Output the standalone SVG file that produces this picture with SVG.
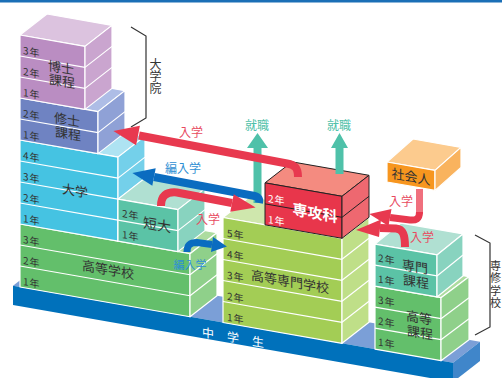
<svg xmlns="http://www.w3.org/2000/svg" width="502" height="378" viewBox="0 0 502 378">
<defs>
<style>
text{font-family:"Noto Sans CJK JP","Noto Sans",sans-serif;}
.y{font-size:10px;fill:#333;letter-spacing:1px}
.yw{font-size:10px;fill:#fff;letter-spacing:1px}
.lb{font-size:13px;fill:#333;text-anchor:middle}
.e{stroke:#fff;stroke-width:1.2;stroke-linejoin:round}
.l{stroke:#fff;stroke-width:1.2;fill:none}
.k{stroke:#222;stroke-width:1;stroke-linejoin:round}
.kl{stroke:#222;stroke-width:1;fill:none}
.pf{fill:#ba8dc2}.ps{fill:#caa5cf}.pt{fill:#dcc3df}
.mf{fill:#6f83c2}.ms{fill:#8fa1d6}.mt{fill:#aebde6}
.cf{fill:#45c3e2}.cs{fill:#74d0ea}.ct{fill:#aee3f2}
.tf{fill:#5bc3a6}.ts{fill:#88d3bf}.tt{fill:#b0e0d2}
.gf{fill:#63bf6b}.gs{fill:#8fd08a}.gt{fill:#addc9f}
.yf{fill:#a3cd55}.ys{fill:#bfdf88}.yt{fill:#cfe7ad}
.rf{fill:#e8364b}.rs{fill:#ee6870}.rt{fill:#f48b80}
.of{fill:#f7961f}.os{fill:#f9b35e}.ot{fill:#fccb8e}
.bf{fill:#0071bb}.bs{fill:#4086ca}.bt{fill:#7b9fd7}
.ar{fill:none;stroke:#e8394f;stroke-width:8}
.ab{fill:none;stroke:#0a6cc0;stroke-width:8}
.hr{fill:#e8394f}.hb{fill:#0a6cc0}.hg{fill:#4fc1a9}
.tr{font-size:12px;fill:#e84a5f;text-anchor:middle}
.tb{font-size:12px;fill:#2f8fd3;text-anchor:middle}
.tg{font-size:12px;fill:#4fc1a9;text-anchor:middle}
.br{fill:none;stroke:#333;stroke-width:1.2}
.vt{fill:#333;writing-mode:vertical-rl;text-orientation:upright}
</style>
</defs>
<rect x="0" y="0" width="502" height="2.5" fill="#1a6fb6"/>

<g id="chugakusei">
<polygon class="bt" points="13,285.8 40,264.8 480,341.8 453,362.8"/>
<polygon class="bf" points="13,285.8 453,362.8 453,382 13,305"/>
<polygon class="bs" points="453,362.8 480,341.8 480,361 453,382"/>
<text transform="translate(202,336.5) skewY(9.93)" style="font-size:12px;fill:#fff;letter-spacing:13px">中学生</text>
</g>

<g id="koutougakkou">
<polygon class="gt e" points="20,224 47,203 217,232.75 190,253.75"/>
<polygon class="gf e" points="20,224 190,253.75 190,316.75 20,287"/>
<polygon class="gs e" points="190,253.75 217,232.75 217,295.75 190,316.75"/>
<path class="l" d="M20,245 L190,274.75 M20,266 L190,295.75 M190,274.75 L217,253.75 M190,295.75 L217,274.75"/>
<text class="y" transform="translate(23,243) skewY(9.93)">3年</text>
<text class="y" transform="translate(23,264) skewY(9.93)">2年</text>
<text class="y" transform="translate(23,285) skewY(9.93)">1年</text>
<text class="lb" transform="translate(108,274.5) skewY(9.93)">高等学校</text>
</g>

<g id="daigaku">
<polygon class="ct e" points="20,140 47,119 145,136.15 118,157.15"/>
<polygon class="cf e" points="20,140 118,157.15 118,241.15 20,224"/>
<polygon class="cs e" points="118,157.15 145,136.15 145,220.15 118,241.15"/>
<path class="l" d="M20,161 L118,178.15 M20,182 L118,199.15 M20,203 L118,220.15 M118,178.15 L145,157.15 M118,199.15 L145,178.15 M118,220.15 L145,199.15"/>
<text class="y" transform="translate(23,159) skewY(9.93)">4年</text>
<text class="y" transform="translate(23,180) skewY(9.93)">3年</text>
<text class="y" transform="translate(23,201) skewY(9.93)">2年</text>
<text class="y" transform="translate(23,222) skewY(9.93)">1年</text>
<text class="lb" transform="translate(75,195.5) skewY(9.93)">大学</text>
</g>

<g id="tandai">
<polygon class="tt e" points="118,199.15 145,178.15 205,188.65 178,209.65"/>
<polygon class="tf e" points="118,199.15 178,209.65 178,251.65 118,241.15"/>
<polygon class="ts e" points="178,209.65 205,188.65 205,230.65 178,251.65"/>
<path class="l" d="M118,220.15 L178,230.65 M178,230.65 L205,209.65"/>
<text class="y" transform="translate(122,217) skewY(9.93)">2年</text>
<text class="y" transform="translate(122,238) skewY(9.93)">1年</text>
<text class="lb" style="font-size:14px" transform="translate(157,230) skewY(9.93)">短大</text>
</g>

<g id="shushi">
<polygon class="mt e" points="20,98 47,77 125,90.65 98,111.65"/>
<polygon class="mf e" points="20,98 98,111.65 98,153.65 20,140"/>
<polygon class="ms e" points="98,111.65 125,90.65 125,132.65 98,153.65"/>
<path class="l" d="M20,119 L98,132.65 M98,132.65 L125,111.65"/>
<text class="y" transform="translate(23,117) skewY(9.93)">2年</text>
<text class="y" transform="translate(23,138) skewY(9.93)">1年</text>
<text class="lb" transform="translate(67,124.5) skewY(9.93)">修士</text>
<text class="lb" transform="translate(68,138.5) skewY(9.93)">課程</text>
</g>

<g id="hakase">
<polygon class="pt e" points="20,35 47,14 112,25.375 85,46.375"/>
<polygon class="pf e" points="20,35 85,46.375 85,109.375 20,98"/>
<polygon class="ps e" points="85,46.375 112,25.375 112,88.375 85,109.375"/>
<path class="l" d="M20,56 L85,67.375 M20,77 L85,88.375 M85,67.375 L112,46.375 M85,88.375 L112,67.375"/>
<text class="y" transform="translate(23,54) skewY(9.93)">3年</text>
<text class="y" transform="translate(23,75) skewY(9.93)">2年</text>
<text class="y" transform="translate(23,96) skewY(9.93)">1年</text>
<text class="lb" transform="translate(61,72.5) skewY(9.93)">博士</text>
<text class="lb" transform="translate(62,86) skewY(9.93)">課程</text>
</g>

<g id="daigakuin-brace">
<polyline class="br" points="131,27 146,36 146,118 131,127"/>
<text class="vt" x="155.5" y="58" style="font-size:12px">大学院</text>
</g>

<g id="kousen">
<polygon class="yt e" points="223,217.5 250,196.5 369,217.3 342,238.3"/>
<polygon class="yf e" points="223,217.5 342,238.3 342,343.3 223,322.5"/>
<polygon class="ys e" points="342,238.3 369,217.3 369,322.3 342,343.3"/>
<path class="l" d="M223,238.5 L342,259.3 M223,259.5 L342,280.3 M223,280.5 L342,301.3 M223,301.5 L342,322.3 M342,259.3 L369,238.3 M342,280.3 L369,259.3 M342,301.3 L369,280.3 M342,322.3 L369,301.3"/>
<text class="y" transform="translate(227,236.7) skewY(9.93)">5年</text>
<text class="y" transform="translate(227,257.7) skewY(9.93)">4年</text>
<text class="y" transform="translate(227,278.7) skewY(9.93)">3年</text>
<text class="y" transform="translate(227,299.7) skewY(9.93)">2年</text>
<text class="y" transform="translate(227,320.7) skewY(9.93)">1年</text>
<text class="lb" transform="translate(290,286.5) skewY(9.93)">高等専門学校</text>
</g>

<g id="senkouka">
<polygon class="rt k" points="265,182.85 292,161.85 369,175.3 342,196.3"/>
<polygon class="rf k" points="265,182.85 342,196.3 342,238.3 265,224.85"/>
<polygon class="rs k" points="342,196.3 369,175.3 369,217.3 342,238.3"/>
<path class="kl" d="M265,203.85 L342,217.3 M342,217.3 L369,196.3"/>
<text class="yw" transform="translate(268,201.9) skewY(9.93)">2年</text>
<text class="yw" transform="translate(268,222.9) skewY(9.93)">1年</text>
<text class="lb" style="font-size:15px;font-weight:bold;fill:#fff" transform="translate(315,218.5) skewY(9.93)">専攻科</text>
</g>

<g id="koutoukatei">
<polygon class="gt e" points="375,286.1 402,265.1 469,276.65 441,297.65"/>
<polygon class="gf e" points="375,286.1 441,297.65 441,360.65 375,349.1"/>
<polygon class="gs e" points="441,297.65 469,276.65 469,339.65 441,360.65"/>
<path class="l" d="M375,307.1 L441,318.65 M375,328.1 L441,339.65 M441,318.65 L469,297.65 M441,339.65 L469,318.65"/>
<text class="y" transform="translate(378,303.6) skewY(9.93)">3年</text>
<text class="y" transform="translate(378,324.6) skewY(9.93)">2年</text>
<text class="y" transform="translate(378,345.6) skewY(9.93)">1年</text>
<text class="lb" transform="translate(419,322.5) skewY(9.93)">高等</text>
<text class="lb" transform="translate(420,337.5) skewY(9.93)">課程</text>
</g>

<g id="senmonkatei">
<polygon class="tt e" points="375,244.1 401,223.1 463,233.95 437,254.95"/>
<polygon class="tf e" points="375,244.1 437,254.95 437,296.95 375,286.1"/>
<polygon class="ts e" points="437,254.95 463,233.95 463,275.95 437,296.95"/>
<path class="l" d="M375,265.1 L437,275.95 M437,275.95 L463,254.95"/>
<text class="y" transform="translate(378,261.6) skewY(9.93)">2年</text>
<text class="y" transform="translate(378,282.6) skewY(9.93)">1年</text>
<text class="lb" transform="translate(415,271.5) skewY(9.93)">専門</text>
<text class="lb" transform="translate(416,286.5) skewY(9.93)">課程</text>
</g>

<g id="senshuugakkou-brace">
<polyline class="br" points="475,235 490,243 490,327 475,335"/>
<text class="vt" x="495.5" y="260" style="font-size:11px;letter-spacing:1.5px">専修学校</text>
</g>

<g id="shakaijin">
<polygon class="ot e" points="387,162 413,139 461,147.4 435,170.4"/>
<polygon class="of e" points="387,162 435,170.4 435,190.4 387,182"/>
<polygon class="os e" points="435,170.4 461,147.4 461,167.4 435,190.4"/>
<text class="lb" transform="translate(411,181.5) skewY(9.93)">社会人</text>
</g>

<g id="connectors">
<path class="hg" d="M253.5,203 V148 H247 L257.5,133 L268,148 H261.5 V203 Z"/>
<path class="hg" d="M335.5,174 V148 H331 L339.5,133 L348,148 H343.5 V174 Z"/>
<text class="tg" x="257" y="129.5">就職</text>
<text class="tg" x="339" y="129.5">就職</text>

<path class="ar" d="M298,177 C298,168 295,165 287,163.5 L139,135.5"/>
<polygon class="hr" points="113.4,130.9 139.9,125.7 136.1,145.3"/>
<text class="tr" x="191" y="136.5">入学</text>

<path class="ab" d="M259,203 C260,198 258,196.5 252,195.5 L154,177"/>
<polygon class="hb" points="132.4,172.9 155.7,168.2 152.3,185.8"/>
<text class="tb" x="183" y="172.5">編入学</text>

<path class="ar" d="M161,206 C161,196 166,191.5 177,192.5 L232,203"/>
<polygon class="hr" points="255.6,207.5 233.7,194.2 230.3,211.8"/>
<text class="tr" x="208" y="223.5">入学</text>

<path class="ab" style="stroke-width:7" d="M187,252 C187,245 190,242.5 197,242.5 L212,244.5"/>
<polygon class="hb" points="226.9,246.5 213,237 211,252"/>
<text class="tb" style="font-size:11px" x="190" y="269">編入学</text>

<path fill="none" stroke="#f0707e" stroke-width="7" d="M419.5,189 V214"/>
<path class="ar" style="stroke-width:7" d="M419.5,212 C419.5,219 416,220.5 410,220 L390,217.5"/>
<polygon class="hr" points="369.3,213.9 391.5,209.1 388.5,225.9"/>
<text class="tr" x="401" y="205.5">入学</text>

<path class="ar" d="M405,247 C405,235 403,229 396,228.5 L380,228"/>
<polygon class="hr" points="356,230 381,219.5 379,237"/>
<text class="tr" x="422" y="241.5">入学</text>
</g>
</svg>
